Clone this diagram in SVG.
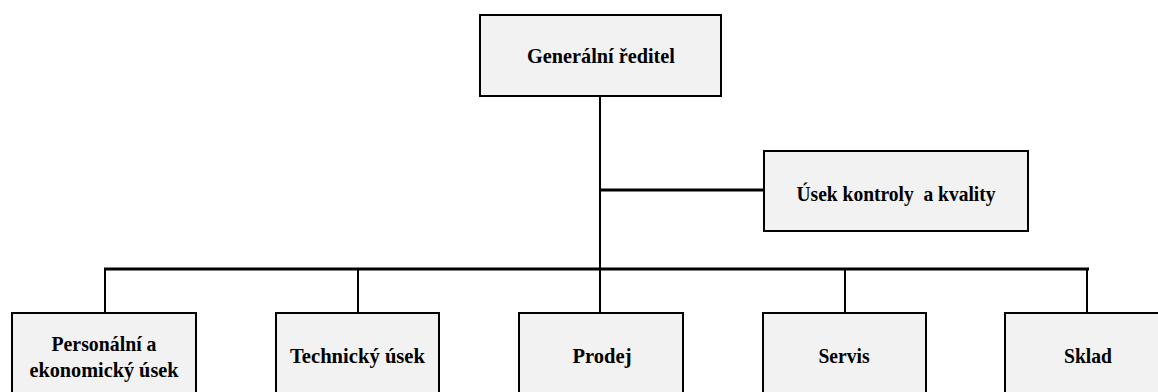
<svg xmlns="http://www.w3.org/2000/svg" width="1158" height="392" viewBox="0 0 1158 392">
<style>
.box{fill:#f2f2f2;stroke:#000;stroke-width:2}
.lbl{font-family:"Liberation Serif","Times New Roman",serif;font-weight:bold;font-size:22px;fill:#000;text-anchor:middle;white-space:pre}
.ln{stroke:#000;stroke-width:2;fill:none}
.thick{stroke:#000;stroke-width:3;fill:none}
</style>
<rect width="1158" height="392" fill="#fff"/>
<g id="connectors">
<line class="ln" x1="600" y1="96" x2="600" y2="270"/>
<line class="thick" x1="600" y1="190" x2="763" y2="190"/>
<line class="thick" x1="104" y1="269" x2="1089" y2="269"/>
<line class="ln" x1="105" y1="269" x2="105" y2="313"/>
<line class="ln" x1="358" y1="269" x2="358" y2="313"/>
<line class="ln" x1="600" y1="269" x2="600" y2="313"/>
<line class="ln" x1="845" y1="269" x2="845" y2="313"/>
<line class="ln" x1="1087" y1="269" x2="1087" y2="313"/>
</g>
<g id="n-reditel">
<rect class="box" x="480" y="15" width="241" height="81"/>
<text class="lbl" x="601" y="63" textLength="148" lengthAdjust="spacingAndGlyphs">Generální ředitel</text>
</g>
<g id="n-kontrola">
<rect class="box" x="764" y="151" width="264" height="80"/>
<text class="lbl" x="896" y="201" textLength="199" lengthAdjust="spacingAndGlyphs">Úsek kontroly  a kvality</text>
</g>
<g id="n-personalni">
<rect class="box" x="12" y="313" width="184" height="100"/>
<text class="lbl" x="104" y="351" textLength="105" lengthAdjust="spacingAndGlyphs">Personální a</text>
<text class="lbl" x="104" y="377" textLength="149" lengthAdjust="spacingAndGlyphs">ekonomický úsek</text>
</g>
<g id="n-technicky">
<rect class="box" x="276" y="313" width="163" height="100"/>
<text class="lbl" x="357.5" y="363" textLength="135" lengthAdjust="spacingAndGlyphs">Technický úsek</text>
</g>
<g id="n-prodej">
<rect class="box" x="519" y="313" width="164" height="100"/>
<text class="lbl" x="602" y="363" textLength="59" lengthAdjust="spacingAndGlyphs">Prodej</text>
</g>
<g id="n-servis">
<rect class="box" x="763" y="313" width="163" height="100"/>
<text class="lbl" x="844" y="363" textLength="51" lengthAdjust="spacingAndGlyphs">Servis</text>
</g>
<g id="n-sklad">
<rect class="box" x="1005" y="313" width="166" height="100"/>
<text class="lbl" x="1088" y="363" textLength="48" lengthAdjust="spacingAndGlyphs">Sklad</text>
</g>
</svg>
